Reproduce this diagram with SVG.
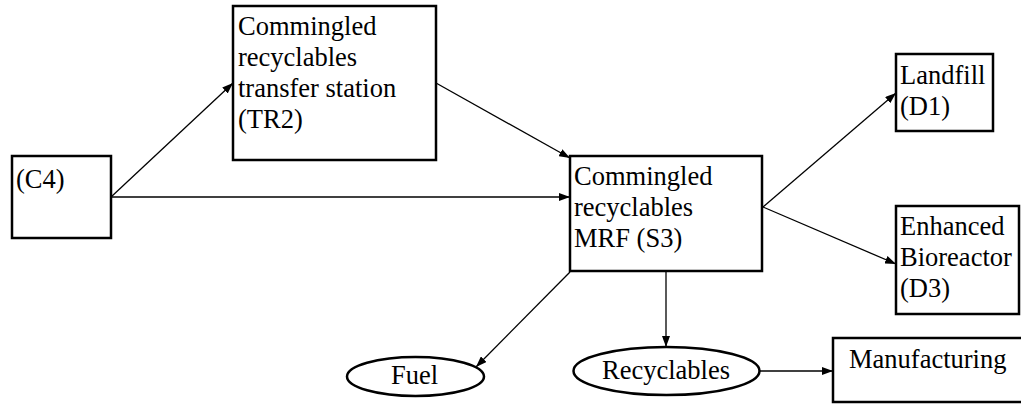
<svg xmlns="http://www.w3.org/2000/svg" width="1021" height="404" viewBox="0 0 1021 404">
  <defs>
    <marker id="arrow" markerUnits="userSpaceOnUse" markerWidth="11" markerHeight="8" refX="11" refY="4" orient="auto">
      <path d="M0,0 L11,4 L0,8 z" fill="#000"/>
    </marker>
    <style>
      .box { fill: #fff; stroke: #000; stroke-width: 2.5; }
      .oval { fill: #fff; stroke: #000; stroke-width: 2.5; }
      .lbl { font-family: 'Liberation Serif', 'Times New Roman', Times, serif; font-size: 26.5px; fill: #000; }
      .edge { fill: none; stroke: #000; stroke-width: 1.3; marker-end: url(#arrow); }
    </style>
  </defs>
  <rect width="1021" height="404" fill="#fff"/>

  <!-- flow arrows -->
  <g id="connectors">
    <path class="edge" d="M111,197 L233,83"/>
    <path class="edge" d="M111,197 L570,197"/>
    <path class="edge" d="M436,83 L570,158"/>
    <path class="edge" d="M763,207 L896,93"/>
    <path class="edge" d="M763,207 L896,264"/>
    <path class="edge" d="M570,272 L476,367"/>
    <path class="edge" d="M666,271 L666,347"/>
    <path class="edge" d="M760,371 L833,371"/>
  </g>

  <g id="node-c4">
    <rect class="box" x="12" y="156" width="99" height="82"/>
    <text class="lbl" x="16" y="188">(C4)</text>
  </g>

  <g id="node-tr2">
    <rect class="box" x="233" y="6" width="203" height="154"/>
    <text class="lbl" x="238" y="35">Commingled<tspan x="238" dy="31">recyclables</tspan><tspan x="238" dy="31">transfer station</tspan><tspan x="238" dy="31">(TR2)</tspan></text>
  </g>

  <g id="node-s3">
    <rect class="box" x="570" y="156" width="192" height="115"/>
    <text class="lbl" x="574" y="185">Commingled<tspan x="574" dy="31">recyclables</tspan><tspan x="574" dy="31">MRF (S3)</tspan></text>
  </g>

  <g id="node-d1">
    <rect class="box" x="896" y="54" width="97" height="77"/>
    <text class="lbl" x="900" y="84">Landfill<tspan x="900" dy="31">(D1)</tspan></text>
  </g>

  <g id="node-d3">
    <rect class="box" x="896" y="206" width="123" height="108"/>
    <text class="lbl" x="900" y="235">Enhanced<tspan x="900" dy="31">Bioreactor</tspan><tspan x="900" dy="31">(D3)</tspan></text>
  </g>

  <g id="node-fuel">
    <ellipse class="oval" cx="415.5" cy="376.5" rx="68.5" ry="19.5"/>
    <text class="lbl" x="391" y="384">Fuel</text>
  </g>

  <g id="node-recyclables">
    <ellipse class="oval" cx="666.5" cy="371" rx="93" ry="24"/>
    <text class="lbl" x="602" y="379">Recyclables</text>
  </g>

  <g id="node-manufacturing">
    <rect class="box" x="833" y="338" width="200" height="64"/>
    <text class="lbl" x="849" y="368">Manufacturing</text>
  </g>
</svg>
